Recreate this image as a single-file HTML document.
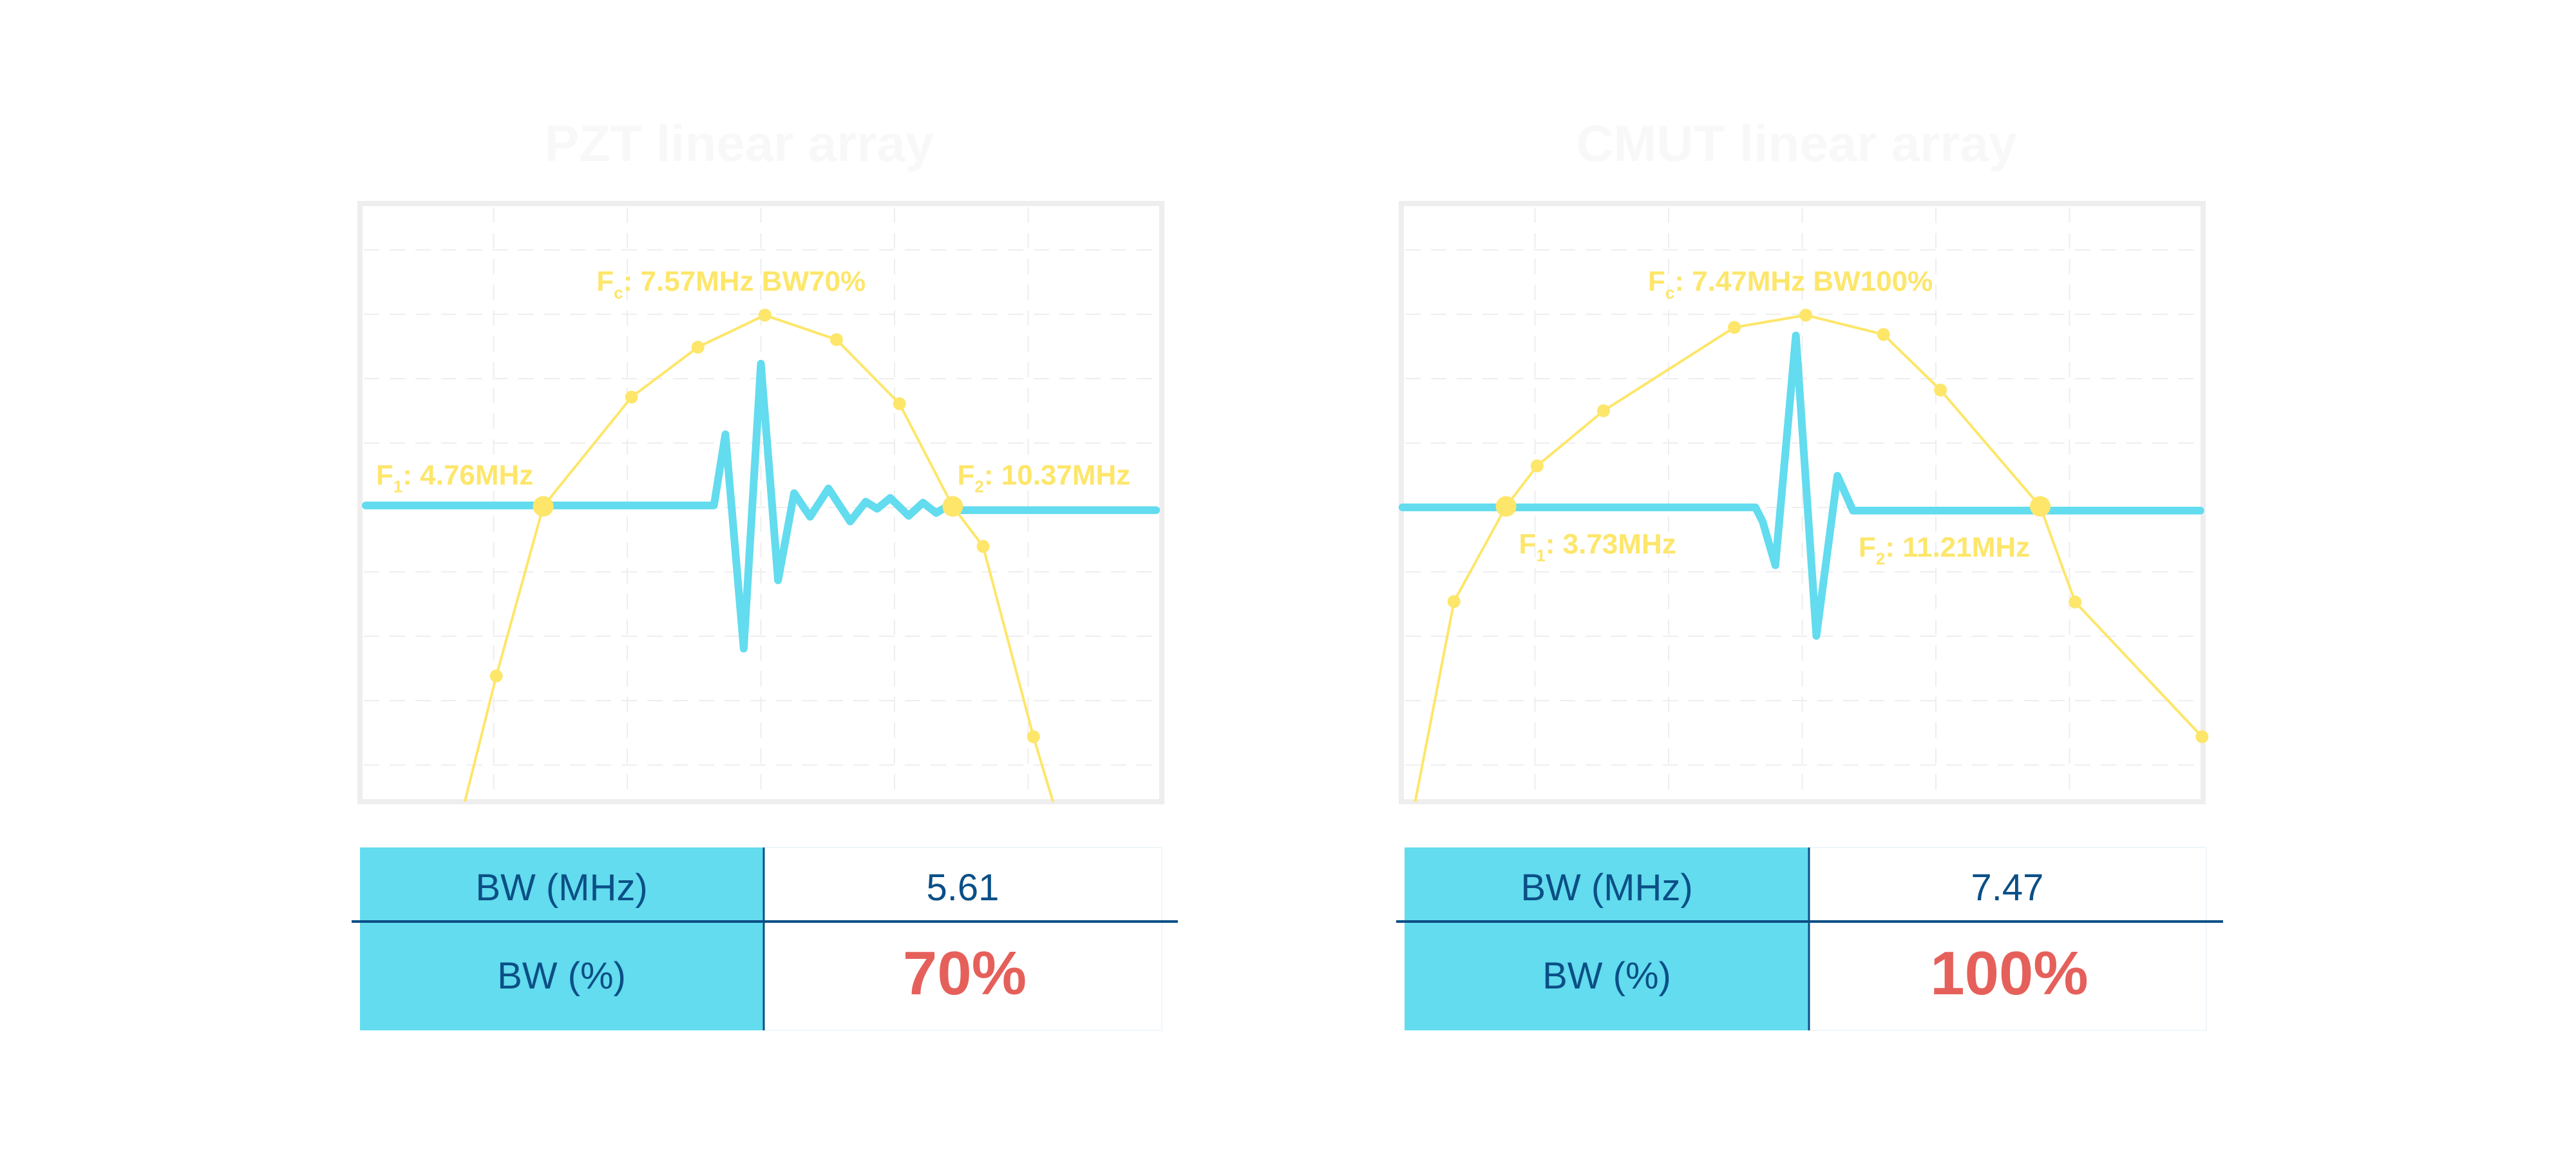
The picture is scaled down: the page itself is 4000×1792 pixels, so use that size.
<!DOCTYPE html>
<html><head><meta charset="utf-8"><style>
html,body{margin:0;padding:0;background:#fff;}
body{width:4000px;height:1792px;position:relative;overflow:hidden;font-family:"Liberation Sans",sans-serif;}
</style></head><body>
<svg id="s" width="4000" height="1792" xmlns="http://www.w3.org/2000/svg" style="position:absolute;left:0;top:0">
<text x="1148" y="250" font-size="80" fill="#f8f8f8" font-weight="bold" text-anchor="middle" font-family="Liberation Sans">PZT linear array</text>
<text x="2790" y="250" font-size="80" fill="#f8f8f8" font-weight="bold" text-anchor="middle" font-family="Liberation Sans">CMUT linear array</text>
<rect x="559" y="1316" width="627" height="284" fill="#62dcee"/>
<rect x="1186" y="1316" width="618" height="284" fill="#fff" stroke="#f0f6fa" stroke-width="2"/>
<line x1="1186" y1="1316" x2="1186" y2="1600" stroke="#0b4f86" stroke-width="3"/>
<line x1="546" y1="1431" x2="1829" y2="1431" stroke="#0b4f86" stroke-width="4"/>
<rect x="2181" y="1316" width="628" height="284" fill="#62dcee"/>
<rect x="2809" y="1316" width="617" height="284" fill="#fff" stroke="#f0f6fa" stroke-width="2"/>
<line x1="2809" y1="1316" x2="2809" y2="1600" stroke="#0b4f86" stroke-width="3"/>
<line x1="2168" y1="1431" x2="3452" y2="1431" stroke="#0b4f86" stroke-width="4"/>
<g font-family="Liberation Sans" fill="#0b4f86" font-size="58" text-anchor="middle">
<text x="872" y="1398">BW (MHz)</text>
<text x="1495" y="1398">5.61</text>
<text x="872" y="1535">BW (%)</text>
<text x="2495" y="1398">BW (MHz)</text>
<text x="3117" y="1398">7.47</text>
<text x="2495" y="1535">BW (%)</text>
</g>
<g font-family="Liberation Sans" fill="#e5605a" font-size="96" font-weight="bold" text-anchor="middle">
<text x="1498" y="1544">70%</text>
<text x="3120" y="1544">100%</text>
</g>
<g id="c"></g>
</svg>
<script>
var NS="http://www.w3.org/2000/svg",g=document.getElementById("c");
function el(t,a,txt){var e=document.createElementNS(NS,t);for(var k in a)e.setAttribute(k,a[k]);if(txt)e.textContent=txt;g.appendChild(e);return e;}
function chart(X,Y,W,H,zx0,zw,blue,yel,big,labels,hollowLast){
 var zy0=225,zh=1270;
 function px(x){return X+(x-zx0)/zw*W;} function py(y){return Y+(y-zy0)/zh*H;}
 for(var k=1;k<=5;k++){var xx=X+k*W/6;el("line",{x1:xx,y1:Y+6,x2:xx,y2:Y+H-6,stroke:"#eeeeee","stroke-width":2,"stroke-dasharray":"24 16"});}
 for(var k=0;k<9;k++){var yy=Y+72+k*100;el("line",{x1:X+6,y1:yy,x2:X+W-6,y2:yy,stroke:"#eeeeee","stroke-width":2,"stroke-dasharray":"24 16"});}
 el("rect",{x:X,y:Y,width:W,height:H,fill:"none",stroke:"#eeeeee","stroke-width":8});
 el("polyline",{points:blue.map(function(p){return px(p[0])+","+py(p[1]);}).join(" "),fill:"none",stroke:"#62dcee","stroke-width":12,"stroke-linejoin":"round","stroke-linecap":"round"});
 el("polyline",{points:yel.map(function(p){return px(p[0])+","+py(p[1]);}).join(" "),fill:"none",stroke:"#fde66a","stroke-width":4});
 yel.forEach(function(p,i){if(i==0||i==yel.length-1&&!hollowLast)return;var r=big.indexOf(i)>=0?16:10;el("circle",{cx:px(p[0]),cy:py(p[1]),r:r,fill:"#fde66a"});});
 labels.forEach(function(l){var t=el("text",{x:px(l[0]),y:py(l[1]),"font-size":44,"font-weight":"bold",fill:"#fde66a","font-family":"Liberation Sans"});
  var a=document.createElementNS(NS,"tspan");a.textContent="F";t.appendChild(a);
  var b=document.createElementNS(NS,"tspan");b.setAttribute("font-size","26");b.setAttribute("dy","12");b.textContent=l[2];t.appendChild(b);
  var c=document.createElementNS(NS,"tspan");c.setAttribute("dy","-12");c.textContent=l[3];t.appendChild(c);});
}
chart(559,316,1245,929,62,1400,
 [[72,866],[680,866],[700,715],[732,1170],[762,565],[792,1025],[820,840],[848,890],[880,830],[918,900],[945,858],[965,873],[988,850],[1020,888],[1045,860],[1068,882],[1095,862],[1110,876],[1452,876]],
 [[245,1495],[300,1228],[382,868],[536,636],[652,530],[769,462],[894,514],[1004,650],[1097,868],[1150,953],[1238,1357],[1272,1495]],
 [2,8],
 [[475,410,"c",": 7.57MHz BW70%"],[90,822,"1",": 4.76MHz"],[1105,822,"2",": 10.37MHz"]],false);
chart(2176,316,1245,929,33,1447,
 [[35,870],[672,870],[685,900],[708,993],[745,505],[782,1143],[820,803],[848,877],[1475,877]],
 [[58,1495],[128,1070],[222,868],[278,782],[398,665],[634,488],[763,462],[903,503],[1006,621],[1186,868],[1249,1071],[1478,1357]],
 [2,9],
 [[478,410,"c",": 7.47MHz BW100%"],[245,968,"1",": 3.73MHz"],[858,975,"2",": 11.21MHz"]],true);
</script>
</body></html>
